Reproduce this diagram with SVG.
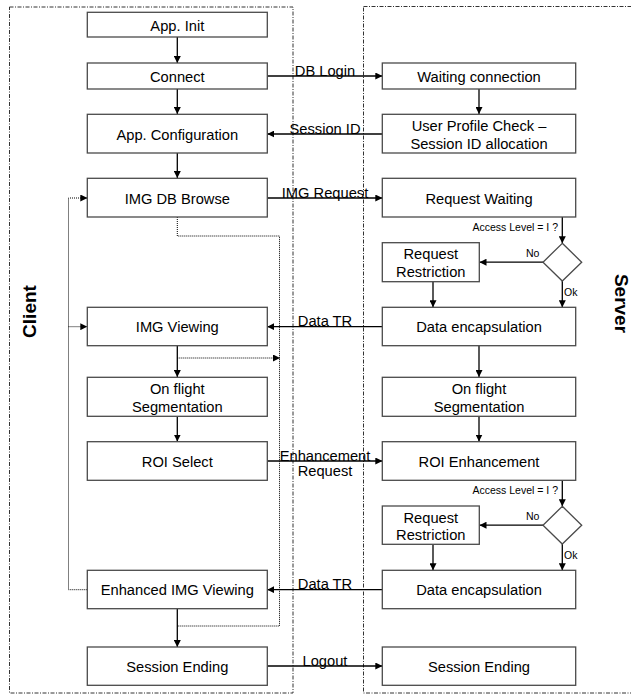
<svg xmlns="http://www.w3.org/2000/svg" width="631" height="694" viewBox="0 0 631 694">
<defs>
<style>
.box{fill:#fff;stroke:#4a4a4a;stroke-width:1.3}
.t{font-family:"Liberation Sans",Arial,sans-serif;font-size:14.7px;fill:#000;text-anchor:middle}
.s{font-family:"Liberation Sans",Arial,sans-serif;font-size:10.5px;fill:#000}
.lane{fill:none;stroke:#333;stroke-width:1;stroke-dasharray:4 1.5 1 1.5}
.ln{fill:none;stroke:#000;stroke-width:1.3}
.dt{fill:none;stroke:#000;stroke-width:1;stroke-dasharray:1 1}
.big{font-family:"Liberation Sans",Arial,sans-serif;font-size:19px;font-weight:bold;fill:#000;text-anchor:middle}
</style>
<marker id="ah" viewBox="0 0 10 10" refX="10" refY="5" markerWidth="7" markerHeight="7" markerUnits="userSpaceOnUse" orient="auto">
<path d="M0,0 L10,5 L0,10 z" fill="#000"/>
</marker>
</defs>
<rect width="631" height="694" fill="#fff"/>
<g id="lanes">
<rect class="lane" x="9.5" y="7" width="283.5" height="686"/>
<rect class="lane" x="363.5" y="6.5" width="280" height="686.5"/>
<text class="big" transform="translate(35.5,311.5) rotate(-90)">Client</text>
<text class="big" transform="translate(615,303.5) rotate(90)">Server</text>
</g>
<g id="connectors">
<line class="ln" x1="177.3" y1="37" x2="177.3" y2="63" marker-end="url(#ah)"/>
<line class="ln" x1="177.3" y1="89" x2="177.3" y2="114" marker-end="url(#ah)"/>
<line class="ln" x1="177.3" y1="153" x2="177.3" y2="178" marker-end="url(#ah)"/>
<line class="ln" x1="177.3" y1="346" x2="177.3" y2="377" marker-end="url(#ah)"/>
<line class="ln" x1="177.3" y1="416.5" x2="177.3" y2="441.5" marker-end="url(#ah)"/>
<line class="ln" x1="177.3" y1="609" x2="177.3" y2="647" marker-end="url(#ah)"/>
<line class="ln" x1="479" y1="89" x2="479" y2="114" marker-end="url(#ah)"/>
<line class="ln" x1="479" y1="346" x2="479" y2="377" marker-end="url(#ah)"/>
<line class="ln" x1="479" y1="416.5" x2="479" y2="441.5" marker-end="url(#ah)"/>
<line class="ln" x1="562.3" y1="217" x2="562.3" y2="243.3" marker-end="url(#ah)"/>
<line class="ln" x1="543" y1="262.2" x2="479.5" y2="262.2" marker-end="url(#ah)"/>
<line class="ln" x1="433" y1="282" x2="433" y2="307.3" marker-end="url(#ah)"/>
<line class="ln" x1="562.3" y1="281" x2="562.3" y2="307.3" marker-end="url(#ah)"/>
<line class="ln" x1="562.3" y1="480.5" x2="562.3" y2="506.3" marker-end="url(#ah)"/>
<line class="ln" x1="543" y1="525.2" x2="479.5" y2="525.2" marker-end="url(#ah)"/>
<line class="ln" x1="433" y1="544.5" x2="433" y2="570.3" marker-end="url(#ah)"/>
<line class="ln" x1="562.3" y1="544" x2="562.3" y2="570.3" marker-end="url(#ah)"/>
<line class="ln" x1="267.3" y1="76" x2="382.3" y2="76" marker-end="url(#ah)"/>
<line class="ln" x1="382.3" y1="134" x2="267.3" y2="134" marker-end="url(#ah)"/>
<line class="ln" x1="267.3" y1="198" x2="382.3" y2="198" marker-end="url(#ah)"/>
<line class="ln" x1="382.3" y1="326.7" x2="267.3" y2="326.7" marker-end="url(#ah)"/>
<line class="ln" x1="267.3" y1="461" x2="382.3" y2="461" marker-end="url(#ah)"/>
<line class="ln" x1="382.3" y1="589.7" x2="267.3" y2="589.7" marker-end="url(#ah)"/>
<line class="ln" x1="267.3" y1="666" x2="382.3" y2="666" marker-end="url(#ah)"/>
<path class="dt" d="M87.3,589.7 H68.5 V198 H87.3" marker-end="url(#ah)"/>
<line class="dt" x1="68.5" y1="326.7" x2="87.3" y2="326.7" marker-end="url(#ah)"/>
<path class="dt" d="M177.3,217 V236 H279.5 V626 H177.3"/>
<line class="dt" x1="177.3" y1="358" x2="280" y2="358" marker-end="url(#ah)"/>
<text class="t" x="325" y="75.5">DB Login</text>
<text class="t" x="325" y="133.5">Session ID</text>
<text class="t" x="325" y="197.5">IMG Request</text>
<text class="t" x="325" y="326">Data TR</text>
<text class="t" x="325" y="460.5">Enhancement</text>
<text class="t" x="325" y="475.5">Request</text>
<text class="t" x="325" y="589">Data TR</text>
<text class="t" x="325" y="665.5">Logout</text>
<text class="s" x="558" y="230.5" text-anchor="end">Access Level = I ?</text>
<text class="s" x="526" y="257">No</text>
<text class="s" x="564" y="296">Ok</text>
<text class="s" x="558" y="493.5" text-anchor="end">Access Level = I ?</text>
<text class="s" x="526" y="520">No</text>
<text class="s" x="564" y="558.5">Ok</text>
</g>
<g id="app-init"><rect class="box" x="87.3" y="12.3" width="180" height="24.7"/><text class="t" x="177.3" y="30.5">App. Init</text></g>
<g id="connect"><rect class="box" x="87.3" y="63" width="180" height="26"/><text class="t" x="177.3" y="81.5">Connect</text></g>
<g id="app-config"><rect class="box" x="87.3" y="114.3" width="180" height="38.7"/><text class="t" x="177.3" y="139.5">App. Configuration</text></g>
<g id="img-db-browse"><rect class="box" x="87.3" y="178.3" width="180" height="38.7"/><text class="t" x="177.3" y="203.5">IMG DB Browse</text></g>
<g id="img-viewing"><rect class="box" x="87.3" y="307.3" width="180" height="38.4"/><text class="t" x="177.3" y="332">IMG Viewing</text></g>
<g id="c-segmentation"><rect class="box" x="87.3" y="377.3" width="180" height="39"/><text class="t" x="177.3" y="394">On flight</text><text class="t" x="177.3" y="411.5">Segmentation</text></g>
<g id="roi-select"><rect class="box" x="87.3" y="441.7" width="180" height="38.6"/><text class="t" x="177.3" y="466.5">ROI Select</text></g>
<g id="enhanced-viewing"><rect class="box" x="87.3" y="570.3" width="180" height="38.4"/><text class="t" x="177.3" y="595">Enhanced IMG Viewing</text></g>
<g id="c-session-ending"><rect class="box" x="87.3" y="647" width="180" height="38.3"/><text class="t" x="177.3" y="671.5">Session Ending</text></g>
<g id="waiting-connection"><rect class="box" x="382.3" y="63" width="193.4" height="26"/><text class="t" x="479" y="81.5">Waiting connection</text></g>
<g id="user-profile"><rect class="box" x="382.3" y="114.3" width="193.4" height="38.7"/><text class="t" x="479" y="131">User Profile Check –</text><text class="t" x="479" y="148.5">Session ID allocation</text></g>
<g id="request-waiting"><rect class="box" x="382.3" y="178.3" width="193.4" height="38.7"/><text class="t" x="479" y="203.5">Request Waiting</text></g>
<g id="check-1"><path class="box" d="M562.3,243.3 L581.7,262.2 L562.3,281 L543,262.2 Z"/></g>
<g id="restriction-1"><rect class="box" x="382.3" y="242.7" width="97" height="39"/><text class="t" x="430.8" y="259.3">Request</text><text class="t" x="430.8" y="277">Restriction</text></g>
<g id="data-encap-1"><rect class="box" x="382.3" y="307.3" width="193.4" height="38.4"/><text class="t" x="479" y="332">Data encapsulation</text></g>
<g id="s-segmentation"><rect class="box" x="382.3" y="377.3" width="193.4" height="39"/><text class="t" x="479" y="394">On flight</text><text class="t" x="479" y="411.5">Segmentation</text></g>
<g id="roi-enhancement"><rect class="box" x="382.3" y="441.7" width="193.4" height="38.6"/><text class="t" x="479" y="466.5">ROI Enhancement</text></g>
<g id="check-2"><path class="box" d="M562.3,506.3 L581.7,525.2 L562.3,544 L543,525.2 Z"/></g>
<g id="restriction-2"><rect class="box" x="382.3" y="506" width="97" height="38.3"/><text class="t" x="430.8" y="522.5">Request</text><text class="t" x="430.8" y="540">Restriction</text></g>
<g id="data-encap-2"><rect class="box" x="382.3" y="570.3" width="193.4" height="38.4"/><text class="t" x="479" y="595">Data encapsulation</text></g>
<g id="s-session-ending"><rect class="box" x="382.3" y="647" width="193.4" height="38.3"/><text class="t" x="479" y="671.5">Session Ending</text></g>
</svg>
